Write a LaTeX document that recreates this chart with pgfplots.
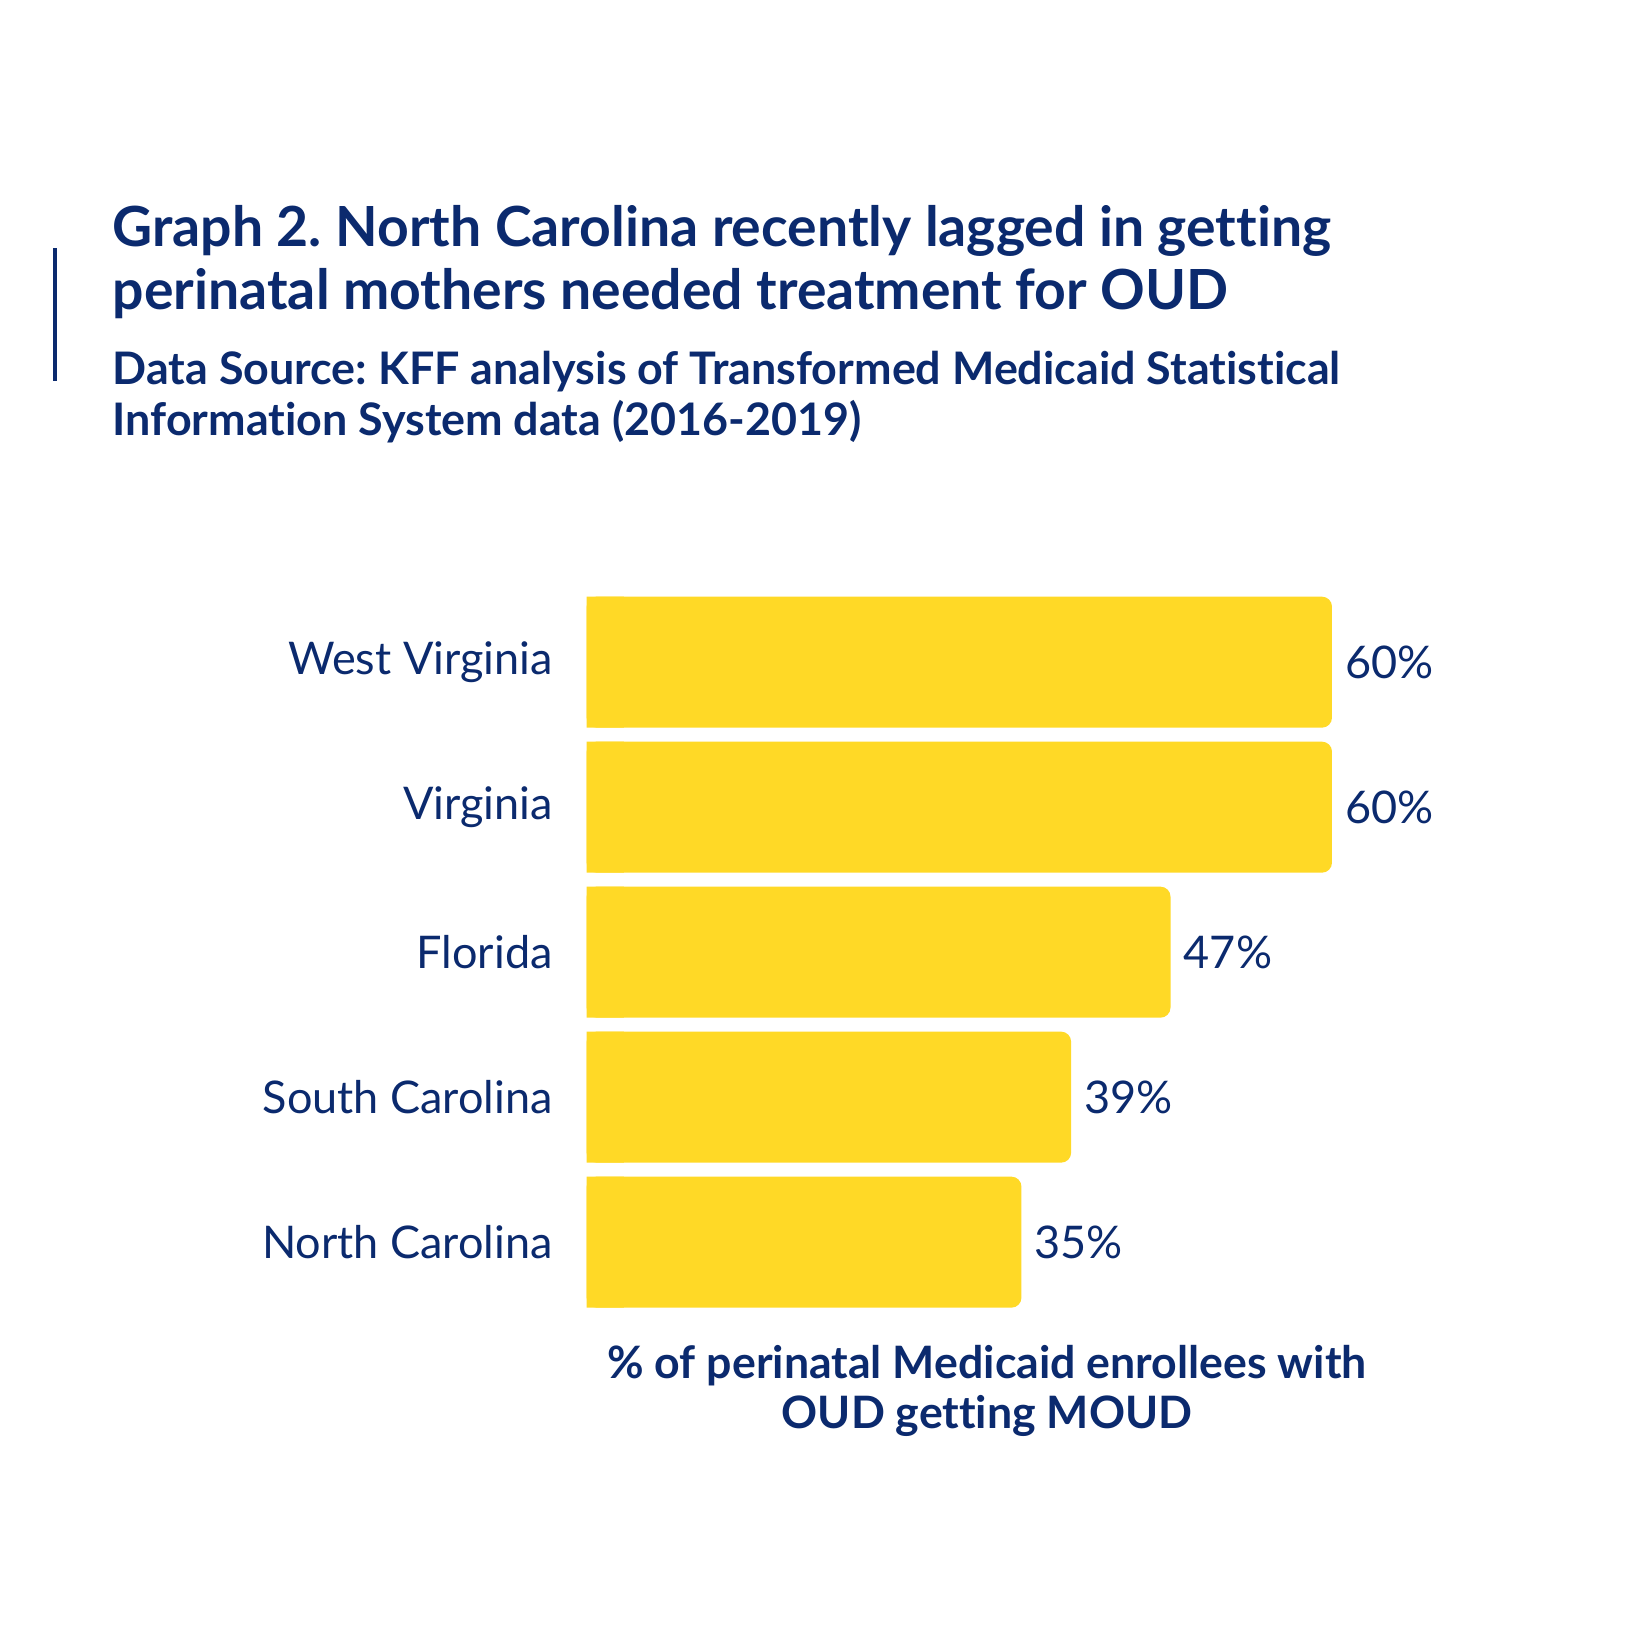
\documentclass[border=0pt]{standalone}
\usepackage{pgfplots}
\pgfplotsset{compat=1.18}
\usepackage{fontspec}
\setmainfont{Lato}[Ligatures={NoCommon}]
\definecolor{navy}{HTML}{0B2A6E}
\definecolor{gold}{HTML}{FFD926}
\frenchspacing
\begin{document}
\begin{tikzpicture}
\fill[white] (0,0) rectangle (489.9bp,490.8bp);
\begin{axis}[
  at={(176bp,96.4bp)}, anchor=south west,
  scale only axis, width=223.6bp, height=217.5bp,
  xmin=0, xmax=60, ymin=-0.5, ymax=4.5,
  axis line style={draw=none},
  xtick=\empty,
  ytick={0,1,2,3,4},
  yticklabels={North Carolina,South Carolina,Florida,Virginia,West Virginia},
  major tick length=0pt, tick style={draw=none},
  yticklabel style={anchor=east, inner sep=0pt, xshift=-10bp, text=navy,
    font=\fontsize{13.5bp}{15bp}\selectfont},
  clip=false,
]
\addplot[xbar, bar shift=0pt, bar width=39.3bp, fill=gold, draw=none, rounded corners=3bp,
  point meta=x,
  nodes near coords={\pgfmathprintnumber[assume math mode=true]{\pgfplotspointmeta}\%},
  nodes near coords style={anchor=west, inner sep=0pt, xshift=3.8bp, text=navy,
    font=\fontsize{13.5bp}{15bp}\selectfont}]
  coordinates {(35,0) (39,1) (47,2) (60,3) (60,4)};
\addplot[xbar, bar shift=0pt, bar width=39.3bp, fill=gold, draw=none]
  coordinates {(3,0) (3,1) (3,2) (3,3) (3,4)};
\end{axis}
\fill[navy] (16bp,376.5bp) rectangle (17bp,416.4bp);
\node[anchor=base west, inner sep=0pt, text=navy, font=\fontsize{16.6bp}{19bp}\selectfont\bfseries]
  at (33.6bp,416.7bp) {Graph 2. North Carolina recently lagged in getting};
\node[anchor=base west, inner sep=0pt, text=navy, font=\fontsize{16.6bp}{19bp}\selectfont\bfseries]
  at (33.6bp,397.8bp) {perinatal mothers needed treatment for OUD};
\node[anchor=base west, inner sep=0pt, text=navy, font=\fontsize{13.45bp}{15bp}\selectfont\bfseries]
  at (33.6bp,375.3bp) {Data Source: KFF analysis of Transformed Medicaid Statistical};
\node[anchor=base west, inner sep=0pt, text=navy, font=\fontsize{13.45bp}{15bp}\selectfont\bfseries]
  at (33.6bp,360bp) {Information System data (2016-2019)};
\node[anchor=base, inner sep=0pt, text=navy, font=\fontsize{13.4bp}{15bp}\selectfont\bfseries]
  at (296.1bp,77.3bp) {\% of perinatal Medicaid enrollees with};
\node[anchor=base, inner sep=0pt, text=navy, font=\fontsize{13.4bp}{15bp}\selectfont\bfseries]
  at (296.1bp,62.3bp) {OUD getting MOUD};
\end{tikzpicture}
\end{document}
